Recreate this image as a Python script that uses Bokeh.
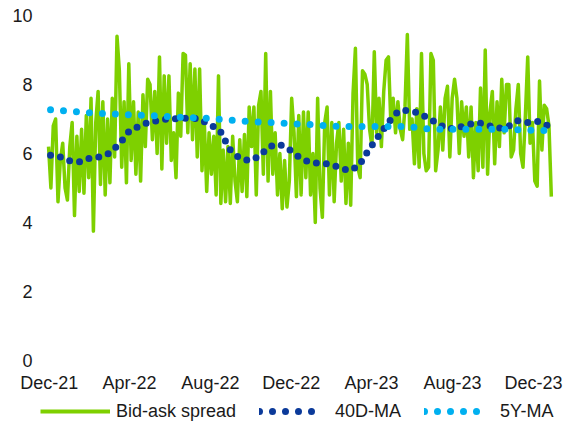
import pandas as pd
from bokeh.plotting import figure
from bokeh.layouts import column
from bokeh.models import (ColumnDataSource, FixedTicker, DatetimeTickFormatter,
                          Legend, LegendItem, Range1d)
from bokeh.embed import file_html
from bokeh.resources import INLINE

# ---------------- data ----------------
spread_start, spread_end = "2021-11-30", "2023-12-28"
spread = [
    6.2, 5.0, 6.8, 7.0, 4.6, 5.8, 6.3, 5.0, 4.65, 6.2, 6.9, 4.2, 6.5, 4.9, 6.7, 4.85, 7.1, 5.3, 7.6, 3.75, 6.9, 7.8, 5.1, 7.5, 4.8,
    7.0, 5.15, 7.6, 5.9, 9.4, 8.4, 5.6, 7.5, 5.15, 8.6, 5.8, 7.5, 5.4, 7.2, 5.2, 7.7, 6.2, 8.15, 8.0, 6.4, 7.8, 6.0, 8.8, 5.55, 8.25, 6.3,
    8.25, 5.8, 6.6, 5.3, 7.75, 6.5, 8.9, 8.85, 6.6, 8.6, 6.4, 8.45, 5.9, 8.45, 5.5, 6.9, 4.9, 6.6, 5.4, 6.5, 4.8, 8.25, 4.55, 6.1, 4.6, 6.2,
    4.55, 6.5, 5.2, 4.6, 6.4, 4.9, 6.55, 4.75, 7.35, 6.2, 7.35, 4.8, 7.4, 7.8, 5.4, 8.9, 5.2, 7.8, 5.4, 6.6, 4.8, 6.0, 4.4, 5.8, 4.45, 5.2, 7.6,
    6.6, 4.75, 7.1, 4.8, 7.2, 5.3, 7.2, 4.8, 6.0, 4.0, 7.6, 5.0, 4.15, 6.9, 7.35, 4.8, 6.9, 4.6, 6.3, 6.9, 5.2, 6.7, 4.55, 6.3, 4.5, 7.75, 9.05,
    5.6, 5.3, 8.4, 8.3, 8.0, 6.7, 6.2, 8.95, 6.6, 7.6, 6.2, 7.8, 8.7, 8.8, 6.9, 7.6, 6.6, 7.5, 6.7, 6.4, 7.35, 9.45, 6.7, 7.0, 5.7, 7.3, 5.6,
    8.9, 6.0, 5.5, 5.6, 8.9, 8.7, 5.5, 6.1, 7.35, 6.1, 7.6, 7.95, 5.9, 7.6, 8.15, 7.6, 6.0, 7.5, 6.5, 7.35, 5.9, 7.35, 5.3, 6.9, 5.5, 7.9, 5.6, 9.0,
    5.4, 7.2, 7.8, 5.7, 7.5, 6.2, 8.15, 6.6, 8.0, 8.0, 5.9, 6.1, 7.3, 8.0, 6.0, 5.6, 7.1, 8.8, 6.3, 6.9, 5.2, 5.05, 8.1, 6.1, 7.4, 7.3, 6.8, 4.75,
]

ma_start, ma_end = "2021-12-03", "2023-12-22"
ma40 = [
    5.95, 5.90, 5.78, 5.76, 5.87, 5.90, 6.02, 6.30, 6.68, 6.79,
    6.93, 6.95, 7.02, 7.00, 7.04, 7.00, 6.83, 6.70, 6.13, 5.87,
    5.79, 5.92, 6.20, 6.27, 6.12, 5.90, 5.75, 5.72, 5.70, 5.60,
    5.50, 5.63, 6.10, 6.50, 6.90, 7.23, 7.25, 7.18, 7.03, 6.86,
    6.71, 6.75, 6.84, 6.90, 6.82, 6.73, 6.77, 6.95, 6.90, 6.93, 6.81,
]
ma5y = [
    7.27, 7.22, 7.18, 7.15, 7.12, 7.10, 7.07, 7.04, 7.02, 6.97,
    6.93, 6.90, 6.87, 6.84, 6.80, 6.78, 6.78, 6.78, 6.78, 6.71,
    6.70, 6.70, 6.70, 6.70, 6.68, 6.66,
]

xtick_dates = ["2021-12-01", "2022-04-01", "2022-08-01", "2022-12-01",
               "2023-04-01", "2023-08-01", "2023-12-01"]
yticks = [0, 2, 4, 6, 8, 10]
series_names = ["Bid-ask spread", "40D-MA", "5Y-MA"]

GREEN = "#7ed000"
DARK = "#0b3a9a"
LIGHT = "#00b0f0"
FONT = "Liberation Sans"
TXT = "#1a1a1a"
KEY_DOTS = "0 13 0 13 0 13 0 13 0 30"   # five dots in the legend key

# ---------------- sources ----------------
src_spread = ColumnDataSource(dict(
    date=pd.date_range(spread_start, spread_end, periods=len(spread)), v=spread))
src_ma40 = ColumnDataSource(dict(
    date=pd.date_range(ma_start, ma_end, periods=len(ma40)), v=ma40))
src_ma5y = ColumnDataSource(dict(
    date=pd.date_range(ma_start, ma_end, periods=len(ma5y)), v=ma5y))

x_lo, x_hi = pd.Timestamp("2021-11-17 21:00"), pd.Timestamp("2024-01-04 19:00")

# ---------------- main chart ----------------
p = figure(width=564, height=395, x_axis_type="datetime",
           output_backend="svg", toolbar_location=None,
           x_range=Range1d(x_lo, x_hi), y_range=Range1d(0, 10),
           min_border_left=40, min_border_right=8, min_border_top=15, min_border_bottom=33)
p.outline_line_color = None
p.grid.visible = False

p.line("date", "v", source=src_spread, line_color=GREEN, line_width=3.5, line_join="round")
p.line("date", "v", source=src_ma40, line_color=DARK, line_width=7,
       line_dash="0 10", line_cap="round")
p.line("date", "v", source=src_ma5y, line_color=LIGHT, line_width=7,
       line_dash="0 13", line_cap="round")

xt = [int(pd.Timestamp(d).value // 10**6) for d in xtick_dates]
p.xaxis.ticker = FixedTicker(ticks=xt)
p.xaxis.formatter = DatetimeTickFormatter(days="%b-%y", months="%b-%y", years="%b-%y")
p.yaxis.ticker = FixedTicker(ticks=yticks)

for ax in (p.xaxis, p.yaxis):
    ax.axis_line_color = None
    ax.major_tick_line_color = None
    ax.minor_tick_line_color = None
    ax.major_tick_out = 0
    ax.major_tick_in = 0
    ax.major_label_text_font = FONT
    ax.major_label_text_font_size = "18px"
    ax.major_label_text_color = TXT
p.xaxis.major_label_standoff = 12
p.yaxis.major_label_standoff = 8

# ---------------- legend strip (keys drawn from the same series) ----------------
lg = figure(width=564, height=31, x_axis_type="datetime",
            output_backend="svg", toolbar_location=None,
            x_axis_location=None, y_axis_location=None,
            x_range=Range1d(x_lo, x_hi), y_range=Range1d(20, 21),
            min_border_left=0, min_border_right=0, min_border_top=0, min_border_bottom=0)
lg.outline_line_color = None
lg.grid.visible = False
k_spread = lg.line("date", "v", source=src_spread, line_color=GREEN, line_width=4)
k_ma40 = lg.line("date", "v", source=src_ma40, line_color=DARK, line_width=7,
                 line_dash=KEY_DOTS, line_cap="round")
k_ma5y = lg.line("date", "v", source=src_ma5y, line_color=LIGHT, line_width=7,
                 line_dash=KEY_DOTS, line_cap="round")

legend = Legend(items=[LegendItem(label=series_names[0], renderers=[k_spread]),
                       LegendItem(label=series_names[1], renderers=[k_ma40]),
                       LegendItem(label=series_names[2], renderers=[k_ma5y])],
                orientation="horizontal", location=(0, 0),
                glyph_width=70, glyph_height=30, label_height=30, label_standoff=6,
                spacing=23, padding=0, margin=0,
                border_line_color=None, background_fill_alpha=0,
                label_text_font=FONT, label_text_font_size="18px",
                label_text_color=TXT)
lg.add_layout(legend)

layout = column(p, lg, spacing=0)
open("out.html", "w").write(file_html(layout, INLINE))
